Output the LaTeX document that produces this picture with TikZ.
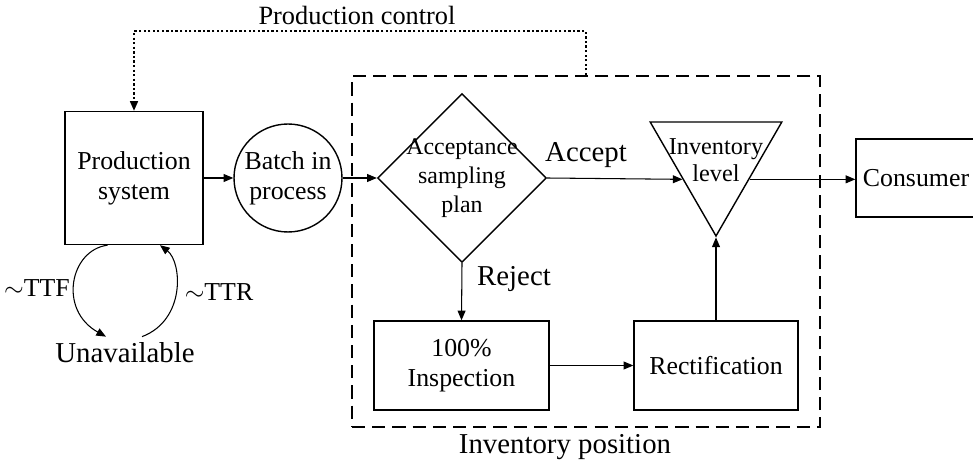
\documentclass[tikz,border=0pt]{standalone}
\usepackage{fontspec}
\setmainfont{Liberation Serif}
\usetikzlibrary{positioning, arrows.meta, shapes.geometric}

\begin{document}
\begin{tikzpicture}[
			x=0.02cm, y=-0.02cm,
			box/.style={draw, rectangle, line width=0.8pt, align=center, inner sep=2pt, font=\fontsize{14.7}{17}\selectfont},
			batchball/.style={draw, circle, line width=0.8pt, align=center, inner sep=0pt, minimum size=2.16cm, font=\fontsize{14.7}{17}\selectfont},
			decision/.style={draw, diamond, line width=0.8pt, align=center, inner sep=-12pt, minimum width=3.38cm, minimum height=3.38cm, font=\fontsize{13.6}{16.4}\selectfont},
			stock/.style={draw, regular polygon, regular polygon sides=3, shape border rotate=180, line width=0.8pt, align=center, inner sep=-12pt, minimum size=3.04cm, font=\fontsize{13.8}{15.3}\selectfont},
			border/.style={draw, rectangle, line width=1.1pt, dash pattern=on 7.5pt off 4pt, minimum width=9.36cm, minimum height=7.02cm},
			lbl/.style={font=\fontsize{16.4}{19}\selectfont},
			small/.style={font=\fontsize{14.7}{17}\selectfont},
			arrow/.style={-{Triangle[length=5.5pt, width=4.5pt]}, line width=0.6pt}
		]
		\useasboundingbox (0,0) rectangle (973,469);

		% Inventory position frame
		\node[border] (frame) at (586,251.5) {};
		\node[lbl] (invpos) at (565,447) {Inventory position};

		% Main line
		\node[box, minimum width=2.76cm, minimum height=2.66cm] (prod) at (134,178) {Production\\system};
		\node[batchball] (batch) at (288,178) {Batch in\\process};
		\node[decision] (acs) at (462,178) {Acceptance\\sampling\\plan};
		\node[stock] (level) at (716,160) {Inventory\\level};
		\node[box, minimum width=2.4cm, minimum height=1.56cm] (consumer) at (916,178) {Consumer};

		% Rejected batches
		\node[box, minimum width=3.5cm, minimum height=1.78cm] (insp) at (461.5,365.5) {100\%\\Inspection};
		\node[box, minimum width=3.28cm, minimum height=1.78cm] (rect) at (716,365.5) {Rectification};

		% Failures
		\node[lbl] (unav) at (125,353) {Unavailable};
		\node[small] (ttf) at (37,288) {$\sim$TTF};
		\node[small] (ttr) at (219,292) {$\sim$TTR};

		% Labels
		\node[lbl] (accept) at (586,155) {Accept};
		\node[lbl] (reject) at (514,279) {Reject};
		\node[font=\fontsize{15}{18}\selectfont] (ctrl) at (357,15) {Production control};

		% Arrows
		\draw[arrow] (prod.east) -- (batch.west);
		\draw[arrow] (batch.east) -- (acs.west);
		\draw[arrow] (acs.east) -- (level.side 3);
		\draw[arrow] (level.side 1) -- (level.side 1 -| consumer.west);
		\draw[arrow] (acs.south) -- (insp.north);
		\draw[arrow] (insp.east) -- (rect.west);
		\draw[arrow] (rect.north) -- (level.corner 1);

		% Production control (dotted)
		\draw[arrow, line width=1pt, dash pattern=on 1.3pt off 1.3pt] (frame.north) -- ++(0,-44) -| (prod.north);

		% Breakdown and repair
		\draw[arrow] ([xshift=-0.53cm]prod.south) .. controls (70,250) and (58,310) .. ([xshift=-0.38cm]unav.north);
		\draw[arrow] ([xshift=0.34cm]unav.north) .. controls (186,320) and (182,262) .. ([xshift=0.52cm]prod.south);

		\end{tikzpicture}
\end{document}
